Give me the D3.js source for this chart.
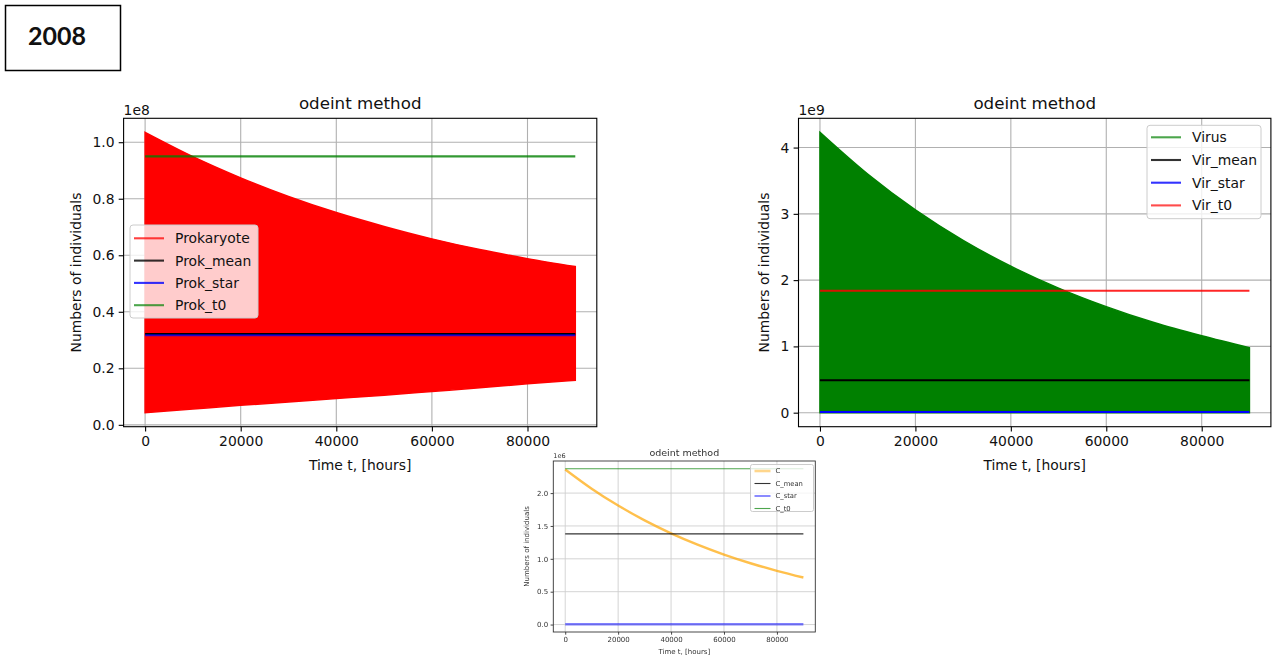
<!DOCTYPE html>
<html><head><meta charset="utf-8">
<script src="https://cdn.jsdelivr.net/npm/d3@7"></script>
<style>
html,body{margin:0;padding:0;background:#fff;}
svg{display:block;}
</style></head><body>
<svg id="fig" width="1273" height="656"></svg>
<script>
// Sample times (hours)
const hours = [0, 10000, 20000, 30000, 40000, 50000, 60000, 70000, 80000, 90000];

// Prokaryote oscillation envelope (x1e8)
const prokUpper = [1.035, 0.949, 0.874, 0.808, 0.751, 0.702, 0.658, 0.620, 0.588, 0.560];
const prokLower = [0.043, 0.056, 0.069, 0.081, 0.093, 0.105, 0.118, 0.131, 0.145, 0.158];
const prokMean = 0.321, prokStar = 0.317, prokT0 = 0.95;

// Virus oscillation envelope (x1e9)
const virUpper = [4.23, 3.60, 3.06, 2.60, 2.21, 1.88, 1.60, 1.36, 1.16, 0.98];
const virLower = [0.0, 0.0, 0.0, 0.0, 0.0, 0.0, 0.0, 0.0, 0.0, 0.0];
const virMean = 0.49, virStar = 0.01, virT0 = 1.84;

// C trajectory (x1e6)
const cValues = [2.36, 2.067, 1.81, 1.585, 1.388, 1.216, 1.065, 0.933, 0.817, 0.716];
const cMean = 1.38, cStar = 0.005, cT0 = 2.37;

// Tick values and labels
const timeTicks = [0, 20000, 40000, 60000, 80000];
const prokTicks = [0, 0.2, 0.4, 0.6, 0.8, 1.0];
const prokTickLabels = ["0.0", "0.2", "0.4", "0.6", "0.8", "1.0"];
const virTicks = [0, 1, 2, 3, 4];
const virTickLabels = ["0", "1", "2", "3", "4"];
const cTicks = [0, 0.5, 1.0, 1.5, 2.0];
const cTickLabels = ["0.0", "0.5", "1.0", "1.5", "2.0"];

const prokNames = ["Prokaryote", "Prok_mean", "Prok_star", "Prok_t0"];
const virNames = ["Virus", "Vir_mean", "Vir_star", "Vir_t0"];
const cNames = ["C", "C_mean", "C_star", "C_t0"];

const FONT = "DejaVu Sans";
const svg = d3.select("#fig");

// Year tag in the top-left corner
svg.append("rect").attr("x", 5.5).attr("y", 5.5).attr("width", 115).attr("height", 65)
  .attr("fill", "#fff").attr("stroke", "#000").attr("stroke-width", 1.5);
svg.append("text").attr("x", 57).attr("y", 45).attr("text-anchor", "middle")
  .attr("font-family", "Lato").attr("font-weight", 700).attr("font-size", 25)
  .attr("fill", "#111").text("2008");

function withMargin(lo, hi) {
  const m = (hi - lo) * 0.05;
  return [lo - m, hi + m];
}

function drawPanel(p) {
  const g = svg.append("g");
  if (p.blur) {
    const id = "soft" + Math.random().toString(36).slice(2);
    svg.append("defs").append("filter").attr("id", id)
      .append("feGaussianBlur").attr("stdDeviation", p.blur);
    g.attr("filter", `url(#${id})`);
  }
  const x = d3.scaleLinear().domain(withMargin(d3.min(hours), d3.max(hours)))
    .range([p.box.left, p.box.right]);
  const allY = p.yValues;
  const y = d3.scaleLinear().domain(withMargin(d3.min(allY), d3.max(allY)))
    .range([p.box.bottom, p.box.top]);

  // grid
  const grid = g.append("g").attr("stroke", p.gridColor).attr("stroke-width", p.gridWidth);
  timeTicks.forEach(t => grid.append("line").attr("x1", x(t)).attr("x2", x(t))
    .attr("y1", p.box.top).attr("y2", p.box.bottom));
  p.yTicks.forEach(t => grid.append("line").attr("y1", y(t)).attr("y2", y(t))
    .attr("x1", p.box.left).attr("x2", p.box.right));

  // main series
  if (p.band) {
    const area = d3.area().x((d, i) => x(hours[i]))
      .y0((d, i) => y(p.band.lower[i])).y1(d => y(d)).curve(d3.curveMonotoneX);
    g.append("path").datum(p.band.upper).attr("d", area)
      .attr("fill", p.band.color).attr("stroke", p.band.color).attr("stroke-width", 1.5);
  }
  if (p.curve) {
    const line = d3.line().x((d, i) => x(hours[i])).y(d => y(d)).curve(d3.curveMonotoneX);
    g.append("path").datum(p.curve.values).attr("d", line).attr("fill", "none")
      .attr("stroke", p.curve.color).attr("stroke-opacity", p.curve.opacity)
      .attr("stroke-width", p.curve.width);
  }
  // constant reference levels
  p.levels.forEach(lv => {
    g.append("path").datum(hours)
      .attr("d", d3.line().x(d => x(d)).y(() => y(lv.value)))
      .attr("fill", "none").attr("stroke", lv.color).attr("stroke-opacity", lv.opacity || 1)
      .attr("stroke-width", lv.width);
  });

  // spines
  g.append("rect").attr("x", p.box.left).attr("y", p.box.top)
    .attr("width", p.box.right - p.box.left).attr("height", p.box.bottom - p.box.top)
    .attr("fill", "none").attr("stroke", p.spineColor).attr("stroke-width", p.spineWidth);

  // ticks
  const xAxis = d3.axisBottom(x).tickValues(timeTicks).tickFormat(d3.format("d"))
    .tickSize(p.tickLen).tickPadding(p.tickPad);
  const ax = g.append("g").attr("transform", `translate(0,${p.box.bottom})`).call(xAxis);
  const yAxis = d3.axisLeft(y).tickValues(p.yTicks)
    .tickFormat((d, i) => p.yTickLabels[i]).tickSize(p.tickLen).tickPadding(p.tickPad);
  const ay = g.append("g").attr("transform", `translate(${p.box.left},0)`).call(yAxis);
  [ax, ay].forEach(a => {
    a.select(".domain").remove();
    a.selectAll(".tick line").attr("stroke", p.spineColor).attr("stroke-width", p.spineWidth);
    a.selectAll(".tick text").attr("font-family", FONT).attr("font-size", p.tickFont)
      .attr("fill", p.textColor);
  });

  const cx = (p.box.left + p.box.right) / 2;
  const cy = (p.box.top + p.box.bottom) / 2;
  g.append("text").attr("x", cx).attr("y", p.box.top - p.titleGap).attr("text-anchor", "middle")
    .attr("font-family", FONT).attr("font-size", p.titleFont).attr("fill", p.textColor)
    .text("odeint method");
  g.append("text").attr("x", cx).attr("y", p.xLabelY).attr("text-anchor", "middle")
    .attr("font-family", FONT).attr("font-size", p.labelFont).attr("fill", p.textColor)
    .text("Time t, [hours]");
  g.append("text").attr("transform", `translate(${p.yLabelX},${cy}) rotate(-90)`)
    .attr("text-anchor", "middle").attr("dominant-baseline", "central")
    .attr("font-family", FONT).attr("font-size", p.labelFont).attr("fill", p.textColor)
    .text("Numbers of individuals");
  g.append("text").attr("x", p.box.left).attr("y", p.box.top - p.offsetGap)
    .attr("font-family", FONT).attr("font-size", p.offsetFont).attr("fill", p.textColor)
    .text(p.offset);

  // legend
  const L = p.legend;
  g.append("rect").attr("x", L.x).attr("y", L.y).attr("width", L.w).attr("height", L.h)
    .attr("rx", L.r).attr("fill", "#fff").attr("fill-opacity", 0.8)
    .attr("stroke", "#ccc").attr("stroke-width", 1);
  p.legendItems.forEach((it, i) => {
    const ry = L.y + L.first + i * L.step;
    g.append("line").attr("x1", L.x + L.hx0).attr("x2", L.x + L.hx1)
      .attr("y1", ry).attr("y2", ry).attr("stroke", it.color)
      .attr("stroke-opacity", it.opacity || 1).attr("stroke-width", it.width);
    g.append("text").attr("x", L.x + L.tx).attr("y", ry).attr("dominant-baseline", "central")
      .attr("font-family", FONT).attr("font-size", L.font).attr("fill", p.textColor)
      .text(it.name);
  });
}

const bigStyle = {
  gridColor: "#b0b0b0", gridWidth: 1.1, spineColor: "#000", spineWidth: 1.1,
  tickLen: 4.9, tickPad: 4.2, tickFont: 13.9, titleFont: 16.7, labelFont: 13.9,
  offsetFont: 13.9, titleGap: 9, offsetGap: 3, textColor: "#111"
};

// Prokaryote panel
drawPanel(Object.assign({}, bigStyle, {
  box: { left: 123.6, right: 596.8, top: 118.3, bottom: 426.7 },
  yValues: prokUpper.concat(prokLower, [prokMean, prokStar, prokT0]),
  yTicks: prokTicks, yTickLabels: prokTickLabels,
  band: { upper: prokUpper, lower: prokLower, color: "#ff0000" },
  levels: [
    { value: prokMean, color: "#000", width: 2.1 },
    { value: prokStar, color: "#0000ff", width: 2.1, opacity: 0.75 },
    { value: prokT0, color: "#008000", width: 2.1, opacity: 0.8 }
  ],
  xLabelY: 470, yLabelX: 76, offset: "1e8",
  legend: { x: 130, y: 225, w: 128, h: 93, r: 3, first: 13.3, step: 22.3,
            hx0: 4, hx1: 34, tx: 45, font: 13.9 },
  legendItems: [
    { name: prokNames[0], color: "#ff0000", width: 2.1, opacity: 0.75 },
    { name: prokNames[1], color: "#000", width: 2.1, opacity: 0.8 },
    { name: prokNames[2], color: "#0000ff", width: 2.1, opacity: 0.8 },
    { name: prokNames[3], color: "#008000", width: 2.1, opacity: 0.7 }
  ]
}));

// Virus panel
drawPanel(Object.assign({}, bigStyle, {
  box: { left: 798.5, right: 1270.9, top: 118.3, bottom: 426.7 },
  yValues: virUpper.concat(virLower, [virMean, virStar, virT0]),
  yTicks: virTicks, yTickLabels: virTickLabels,
  band: { upper: virUpper, lower: virLower, color: "#008000" },
  levels: [
    { value: virMean, color: "#000", width: 2.1 },
    { value: virStar, color: "#0000ff", width: 2.1 },
    { value: virT0, color: "#ff0000", width: 2.1, opacity: 0.85 }
  ],
  xLabelY: 470, yLabelX: 763.8, offset: "1e9",
  legend: { x: 1147, y: 125.3, w: 114, h: 93.4, r: 3, first: 12, step: 22.7,
            hx0: 4, hx1: 34, tx: 45, font: 13.9 },
  legendItems: [
    { name: virNames[0], color: "#008000", width: 2.1, opacity: 0.7 },
    { name: virNames[1], color: "#000", width: 2.1, opacity: 0.8 },
    { name: virNames[2], color: "#0000ff", width: 2.1, opacity: 0.8 },
    { name: virNames[3], color: "#ff0000", width: 2.1, opacity: 0.7 }
  ]
}));

// C panel (small inset)
drawPanel({
  gridColor: "#cfcfcf", gridWidth: 0.9, spineColor: "#333", spineWidth: 0.9,
  tickLen: 2.7, tickPad: 2.5, tickFont: 7, titleFont: 9.5, labelFont: 7,
  offsetFont: 6.5, titleGap: 5, offsetGap: 3, textColor: "#333", blur: 0.45,
  box: { left: 553.3, right: 815.3, top: 461, bottom: 632 },
  yValues: cValues.concat([cMean, cStar, cT0]),
  yTicks: cTicks, yTickLabels: cTickLabels,
  curve: { values: cValues, color: "#ffa500", width: 2.4, opacity: 0.7 },
  levels: [
    { value: cMean, color: "#000", width: 1.1, opacity: 0.8 },
    { value: cStar, color: "#0000ff", width: 2.6, opacity: 0.5 },
    { value: cT0, color: "#008000", width: 1.1, opacity: 0.7 }
  ],
  xLabelY: 654, yLabelX: 526.7, offset: "1e6",
  legend: { x: 750.5, y: 464.5, w: 63, h: 47, r: 2, first: 6.5, step: 12.5,
            hx0: 4, hx1: 20, tx: 25, font: 6.8 },
  legendItems: [
    { name: cNames[0], color: "#ffa500", width: 2.6, opacity: 0.45 },
    { name: cNames[1], color: "#000", width: 1.1, opacity: 0.8 },
    { name: cNames[2], color: "#0000ff", width: 1.3, opacity: 0.7 },
    { name: cNames[3], color: "#008000", width: 1.1, opacity: 0.7 }
  ]
});
</script>
</body></html>
